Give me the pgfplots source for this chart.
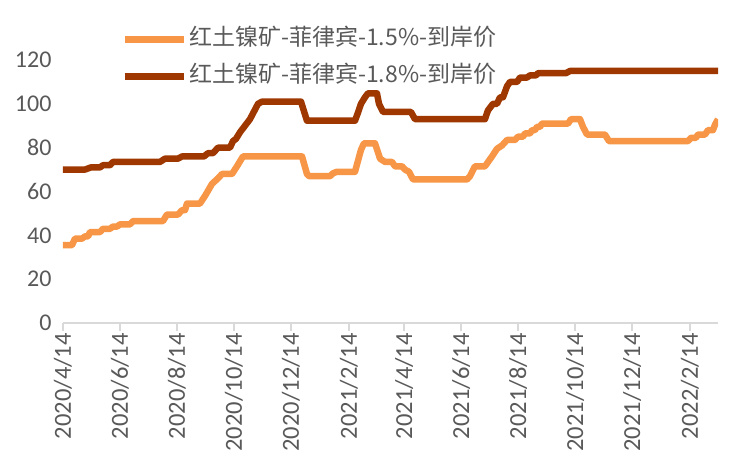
\documentclass[border=0pt]{standalone}
\usepackage{pgfplots}
\pgfplotsset{compat=1.18}
\usepackage{fontspec}
\setmainfont{Carlito}
\newfontfamily\cjk{Noto Sans CJK SC}
\definecolor{lightor}{RGB}{247,150,70}
\definecolor{darkor}{RGB}{158,56,0}
\definecolor{txt}{RGB}{89,89,89}
\definecolor{axgray}{RGB}{217,217,217}
\begin{document}
\begin{tikzpicture}
\begin{axis}[
 scale only axis, width=655pt, height=263pt,
 xmin=0, xmax=701, ymin=0, ymax=120,
 axis x line=bottom, axis y line=left,
 axis line style={-, draw=axgray, line width=1.5pt},
 y axis line style={draw=none},
 ytick={0,20,...,120},
 ytick style={draw=none},
 xtick={0,61,122,183,244,306,365,426,487,548,609,671},
 xticklabels={2020/4/14,2020/6/14,2020/8/14,2020/10/14,2020/12/14,2021/2/14,2021/4/14,2021/6/14,2021/8/14,2021/10/14,2021/12/14,2022/2/14},
 xtick style={draw=axgray, line width=1.5pt},
 tick align=outside, major tick length=8pt,
 x tick label style={rotate=90, anchor=east, font=\fontsize{24.5}{28}\selectfont, text=txt, inner sep=2pt},
 y tick label style={font=\fontsize{24}{28}\selectfont, text=txt},
 /pgf/number format/assume math mode=true,
 legend style={at={(0.0840,1.133)}, anchor=north west, draw=none, fill=none,
   font=\cjk\fontsize{23}{27}\selectfont, text=txt, row sep=12pt,
   nodes={text height=16pt, text depth=5pt}},
 legend cell align=left,
 legend image code/.code={\draw[#1, line width=7pt] (0pt,0pt) -- (59pt,0pt);},
 line join=round,
]
\addplot[color=lightor, line width=6.5pt] coordinates {
(0,35.5)(9.6,35.5)(12.8,38.5)(20.3,38.5)(23.5,39.5)(26.8,39.5)(28.9,41.5)(39.6,41.5)(42.8,43)(50.3,43)(53.5,44)(57.8,44)(61.0,45)(71.7,45)(74.9,46.5)(107.0,46.5)(111.3,49.5)(123.1,49.5)(127.4,51.5)(130.6,51.5)(132.7,54.5)(146.6,54.5)(152.0,58)(159.5,63.5)(165.9,66)(170.2,68)(180.9,68)(186.2,71.5)(192.6,76)(255.8,76)(261.1,68)(263.3,67)(285.7,67)(289.0,68.3)(293.2,69)(312.5,69)(315.7,74)(318.9,79)(322.1,82)(333.9,82)(339.3,75)(344.6,73.5)(352.1,73.5)(355.3,71.5)(362.8,71.5)(366.0,70)(370.3,69)(374.6,65.5)(432.4,65.5)(435.6,67)(440.9,71.5)(451.6,71.5)(459.1,76)(464.5,79.5)(469.8,81)(475.2,83.5)(483.7,83.5)(486.9,85)(492.3,85)(494.4,86.5)(499.8,86.5)(501.9,88)(505.1,88)(507.3,89.5)(510.5,89.5)(512.6,91)(540.5,91)(543.7,93)(553.3,93)(556.5,89.5)(560.8,86)(580.0,86)(584.3,83)(668.9,83)(672.1,84.5)(677.4,84.5)(679.6,86)(687.1,86)(690.3,88)(695.6,88)(697.8,90.5)(701,93)
};
\addlegendentry{红土镍矿-菲律宾-1.5\%-到岸价}
\addplot[color=darkor, line width=6.5pt] coordinates {
(0,70)(23.5,70)(29.9,71)(39.6,71)(42.8,72)(50.3,72)(53.5,73.5)(103.8,73.5)(109.2,75)(123.1,75)(127.4,76)(150.9,76)(155.2,77.5)(160.5,77.5)(165.9,80)(178.7,80)(181.9,83)(185.1,84)(189.4,87)(200.1,93)(208.7,100)(213.0,101)(254.7,101)(261.1,92.3)(312.5,92.3)(315.7,96)(318.9,100)(323.2,103)(326.4,104.8)(336.0,104.8)(338.2,100)(342.5,96.3)(372.4,96.3)(376.7,93)(451.6,93)(454.8,97)(460.2,100)(464.5,100)(467.7,103)(470.9,103)(475.2,108)(478.4,110)(485.9,110)(489.1,112)(496.6,112)(499.8,113)(506.2,113)(508.4,114)(538.3,114)(542.6,115)(701,115)
};
\addlegendentry{红土镍矿-菲律宾-1.8\%-到岸价}
\end{axis}
\pgfresetboundingbox
\path[use as bounding box] (current axis.south west) ++(-63pt,-127pt) rectangle ++(740pt,450pt);
\end{tikzpicture}
\end{document}
